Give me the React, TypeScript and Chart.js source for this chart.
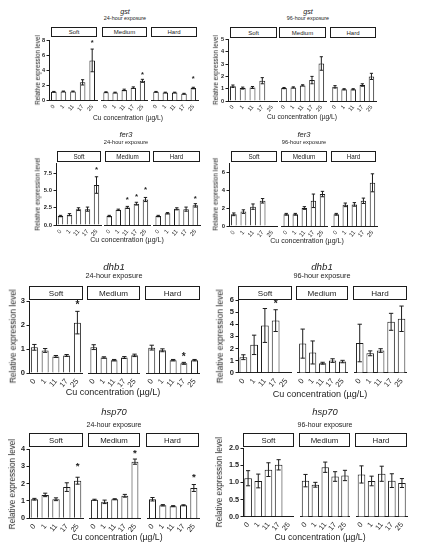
import React, { useEffect, useRef } from "react";
import { Chart, registerables } from "chart.js";

Chart.register(...registerables);

const INK = "#1c1c1c";
const FONT = '"Liberation Sans", Arial, Helvetica, sans-serif';

const CONC = ["0", "1", "11", "17", "25"];
const HARDNESS = ["Soft", "Medium", "Hard"];

// gst, 24 h (Soft | Medium | Hard, each 0,1,11,17,25 µg/L)
const GST24_MEAN = [1.15, 1.2, 1.2, 2.4, 5.3, 1.1, 1.05, 1.4, 1.7, 2.6, 1.15, 1.05, 1.05, 0.9, 1.65];
const GST24_ERR = [0.05, 0.05, 0.05, 0.35, 1.5, 0.05, 0.05, 0.1, 0.1, 0.2, 0.05, 0.05, 0.05, 0.05, 0.1];
const GST24_STAR = [null, null, null, null, 7.8, null, null, null, null, 3.6, null, null, null, null, 3.05];
const GST24_TICKS = [0, 2, 4, 6, 8];

// gst, 96 h
const GST96_MEAN = [1.2, 1.05, 1.1, 1.65, null, 1.05, 1.1, 1.27, 1.7, 3.05, 1.15, 0.95, 0.95, 1.3, 2.0];
const GST96_ERR = [0.1, 0.08, 0.08, 0.25, 0, 0.05, 0.05, 0.05, 0.3, 0.55, 0.1, 0.05, 0.05, 0.1, 0.25];
const GST96_STAR = [null, null, null, null, null, null, null, null, null, null, null, null, null, null, null];
const GST96_TICKS = [0, 1, 2, 3, 4, 5];

// fer3, 24 h
const FER24_MEAN = [1.3, 1.5, 2.3, 2.3, 5.8, 1.3, 2.2, 2.55, 3.1, 3.7, 1.3, 1.7, 2.35, 2.3, 2.85];
const FER24_ERR = [0.1, 0.15, 0.2, 0.3, 1.2, 0.1, 0.1, 0.15, 0.2, 0.3, 0.1, 0.1, 0.15, 0.3, 0.25];
const FER24_STAR = [null, null, null, null, 8.2, null, null, 3.85, 4.3, 5.3, null, null, null, null, 4.1];
const FER24_TICKS = [0, 2.5, 5, 7.5];

// fer3, 96 h
const FER96_MEAN = [1.3, 1.6, 2.15, 2.8, null, 1.3, 1.3, 2.0, 2.8, 3.55, 1.3, 2.35, 2.4, 2.8, 4.8];
const FER96_ERR = [0.15, 0.2, 0.3, 0.25, 0, 0.1, 0.1, 0.15, 0.75, 0.3, 0.1, 0.2, 0.2, 0.3, 1.0];
const FER96_STAR = [null, null, null, null, null, null, null, null, null, null, null, null, null, null, null];
const FER96_TICKS = [0, 2, 4, 6];

// dhb1, 24 h
const DHB24_MEAN = [1.07, 0.94, 0.69, 0.73, 2.1, 1.07, 0.64, 0.53, 0.64, 0.73, 1.05, 0.94, 0.53, 0.4, 0.53];
const DHB24_ERR = [0.12, 0.08, 0.04, 0.04, 0.47, 0.1, 0.03, 0.03, 0.04, 0.05, 0.1, 0.06, 0.03, 0.04, 0.03];
const DHB24_STAR = [null, null, null, null, 2.9, null, null, null, null, null, null, null, null, 0.73, null];
const DHB24_TICKS = [0, 1, 2, 3];

// dhb1, 96 h
const DHB96_MEAN = [1.28, 2.3, 3.9, 4.3, null, 2.4, 1.67, 0.78, 1.0, 0.92, 2.45, 1.6, 1.83, 4.2, 4.45];
const DHB96_ERR = [0.2, 0.8, 1.4, 0.9, 0, 1.2, 0.95, 0.08, 0.15, 0.1, 1.55, 0.2, 0.15, 0.7, 1.05];
const DHB96_STAR = [null, null, null, 5.8, null, null, null, null, null, null, null, null, null, null, null];
const DHB96_TICKS = [0, 1, 2, 3, 4, 5, 6];

// hsp70, 24 h
const HSP24_MEAN = [1.1, 1.35, 1.1, 1.8, 2.17, 1.07, 0.95, 1.1, 1.3, 3.27, 1.1, 0.75, 0.7, 0.75, 1.75];
const HSP24_ERR = [0.05, 0.1, 0.08, 0.25, 0.2, 0.03, 0.1, 0.03, 0.08, 0.15, 0.1, 0.04, 0.03, 0.03, 0.2];
const HSP24_STAR = [null, null, null, null, 3.1, null, null, null, null, 3.85, null, null, null, null, 2.5];
const HSP24_TICKS = [0, 1, 2, 3, 4];

// hsp70, 96 h
const HSP96_MEAN = [1.12, 1.04, 1.37, 1.51, null, 1.05, 0.93, 1.44, 1.17, 1.2, 1.23, 1.04, 1.25, 1.05, 0.98];
const HSP96_ERR = [0.22, 0.2, 0.2, 0.15, 0, 0.18, 0.07, 0.15, 0.14, 0.15, 0.25, 0.14, 0.22, 0.2, 0.13];
const HSP96_STAR = [null, null, null, null, null, null, null, null, null, null, null, null, null, null, null];
const HSP96_TICKS = [0, 0.5, 1, 1.5, 2];

type Layout = {
  titleX: number; geneY: number; subY: number; boxT: number; boxB: number;
  plotT: number; plotB: number; subs: number[][]; boxes: number[][];
  yTitleX: number; xTitleX: number; xTitleY: number; fs: number; bp: number;
};

type Panel = {
  gene: string; exposure: string; mean: (number | null)[]; err: number[];
  star: (number | null)[]; ticks: number[]; yMax: number; dec: number; L: Layout;
};

const PANELS: Panel[] = [
  {
    gene: "gst", exposure: "24-hour exposure", mean: GST24_MEAN, err: GST24_ERR, star: GST24_STAR,
    ticks: GST24_TICKS, yMax: 8, dec: 0,
    L: { titleX: 125, geneY: 12, subY: 19, boxT: 27, boxB: 37, plotT: 40, plotB: 100.5,
      subs: [[49, 97], [101, 147], [151, 198]], boxes: [[51, 97], [102, 147], [151, 197]],
      yTitleX: 38, xTitleX: 128, xTitleY: 118, fs: 1, bp: 0.58 },
  },
  {
    gene: "gst", exposure: "96-hour exposure", mean: GST96_MEAN, err: GST96_ERR, star: GST96_STAR,
    ticks: GST96_TICKS, yMax: 5, dec: 0,
    L: { titleX: 308, geneY: 12, subY: 19, boxT: 27, boxB: 38, plotT: 39.5, plotB: 101,
      subs: [[228, 277], [279, 326], [330, 376]], boxes: [[230, 277], [279, 326], [330, 376]],
      yTitleX: 216, xTitleX: 302, xTitleY: 117, fs: 1, bp: 0.6 },
  },
  {
    gene: "fer3", exposure: "24-hour exposure", mean: FER24_MEAN, err: FER24_ERR, star: FER24_STAR,
    ticks: FER24_TICKS, yMax: 9, dec: 1,
    L: { titleX: 126, geneY: 135, subY: 143, boxT: 151, boxB: 162, plotT: 163, plotB: 225,
      subs: [[56, 101], [104, 150], [153, 200]], boxes: [[57, 101], [105, 150], [153, 200]],
      yTitleX: 38, xTitleX: 127, xTitleY: 240, fs: 1.05, bp: 0.6 },
  },
  {
    gene: "fer3", exposure: "96-hour exposure", mean: FER96_MEAN, err: FER96_ERR, star: FER96_STAR,
    ticks: FER96_TICKS, yMax: 7, dec: 0,
    L: { titleX: 304, geneY: 135, subY: 143, boxT: 151, boxB: 162, plotT: 163, plotB: 226,
      subs: [[229, 277], [281, 327], [331, 377]], boxes: [[231, 277], [281, 327], [331, 376]],
      yTitleX: 216, xTitleX: 307, xTitleY: 241, fs: 1.05, bp: 0.6 },
  },
  {
    gene: "dhb1", exposure: "24-hour exposure", mean: DHB24_MEAN, err: DHB24_ERR, star: DHB24_STAR,
    ticks: DHB24_TICKS, yMax: 3, dec: 0,
    L: { titleX: 114, geneY: 267, subY: 276, boxT: 286, boxB: 300, plotT: 300.5, plotB: 373,
      subs: [[29, 83], [87, 140], [145, 200]], boxes: [[29, 83], [87, 140], [145, 200]],
      yTitleX: 13, xTitleX: 113, xTitleY: 393, fs: 1.35, bp: 0.65 },
  },
  {
    gene: "dhb1", exposure: "96-hour exposure", mean: DHB96_MEAN, err: DHB96_ERR, star: DHB96_STAR,
    ticks: DHB96_TICKS, yMax: 6, dec: 0,
    L: { titleX: 322, geneY: 267, subY: 276, boxT: 286, boxB: 300, plotT: 300, plotB: 372.7,
      subs: [[238, 292], [296, 348], [353, 407]], boxes: [[238, 292], [296, 348], [353, 407]],
      yTitleX: 220, xTitleX: 320, xTitleY: 395, fs: 1.35, bp: 0.72 },
  },
  {
    gene: "hsp70", exposure: "24-hour exposure", mean: HSP24_MEAN, err: HSP24_ERR, star: HSP24_STAR,
    ticks: HSP24_TICKS, yMax: 4, dec: 0,
    L: { titleX: 114, geneY: 413, subY: 425, boxT: 433, boxB: 447, plotT: 449, plotB: 518.3,
      subs: [[29, 83], [88, 140], [146, 199]], boxes: [[29, 83], [88, 140], [146, 199]],
      yTitleX: 13, xTitleX: 117, xTitleY: 537, fs: 1.3, bp: 0.68 },
  },
  {
    gene: "hsp70", exposure: "96-hour exposure", mean: HSP96_MEAN, err: HSP96_ERR, star: HSP96_STAR,
    ticks: HSP96_TICKS, yMax: 2, dec: 1,
    L: { titleX: 325, geneY: 413, subY: 425, boxT: 433, boxB: 447, plotT: 448, plotB: 516.7,
      subs: [[243, 294], [299, 350], [355, 407]], boxes: [[243, 294], [299, 350], [355, 407]],
      yTitleX: 220, xTitleX: 320, xTitleY: 537, fs: 1.3, bp: 0.75 },
  },
];

function SubChart({ p, idx }: { p: Panel; idx: number }) {
  const ref = useRef<HTMLCanvasElement>(null);
  const L = p.L;
  const fs = L.fs;
  const [pl, pr] = L.subs[idx];
  const first = idx === 0;
  const padTop = 6;
  const padRight = 6;
  const xh = Math.round(16 * fs);
  const yAxisW = Math.round(14 * fs);
  const cl = first ? Math.round(pl - yAxisW) : Math.round(pl);
  const ct = Math.round(L.plotT - padTop);
  const cw = Math.round(pr + padRight - cl);
  const ch = Math.round(L.plotB + xh - ct);

  useEffect(() => {
    const mean = p.mean.slice(idx * 5, idx * 5 + 5);
    const err = p.err.slice(idx * 5, idx * 5 + 5);
    const star = p.star.slice(idx * 5, idx * 5 + 5);
    const yw = pl - cl;
    const padT = L.plotT - ct;
    const padR = cl + cw - pr;
    const xhA = ct + ch - L.plotB;
    const tickSize = 5.6 * fs;

    const errPlugin = {
      id: "errstars",
      afterDatasetsDraw(c: any) {
        const ctx = c.ctx;
        const ys = c.scales.y;
        const meta = c.getDatasetMeta(0);
        const cap = 1.6 * fs;
        ctx.save();
        ctx.strokeStyle = INK;
        ctx.fillStyle = INK;
        ctx.lineWidth = 1;
        meta.data.forEach((bar: any, i: number) => {
          const m = mean[i];
          if (m == null) return;
          const e = err[i] || 0;
          const x = bar.x;
          if (e > 0) {
            const yt = ys.getPixelForValue(m + e);
            const yb = ys.getPixelForValue(Math.max(0, m - e));
            ctx.beginPath();
            ctx.moveTo(x, yt);
            ctx.lineTo(x, yb);
            ctx.moveTo(x - cap, yt);
            ctx.lineTo(x + cap, yt);
            ctx.moveTo(x - cap, yb);
            ctx.lineTo(x + cap, yb);
            ctx.stroke();
          }
          const s = star[i];
          if (s != null) {
            const sz = 7.5 * fs;
            ctx.font = `bold ${sz}px ${FONT}`;
            ctx.textAlign = "center";
            ctx.textBaseline = "middle";
            ctx.fillText("*", x, ys.getPixelForValue(s) + sz * 0.22);
          }
        });
        ctx.restore();
      },
    };

    const chart = new Chart(ref.current as HTMLCanvasElement, {
      type: "bar",
      data: {
        labels: CONC,
        datasets: [
          {
            data: mean as any,
            backgroundColor: "#ffffff",
            borderColor: INK,
            borderWidth: 1,
            barPercentage: L.bp,
            categoryPercentage: 1,
          },
        ],
      },
      options: {
        responsive: false,
        animation: false,
        events: [],
        layout: { padding: { top: padT, right: padR, left: 0, bottom: 0 } },
        plugins: {
          legend: { display: false },
          tooltip: { enabled: false },
          title: { display: false },
        },
        scales: {
          x: {
            type: "category",
            offset: true,
            grid: { display: false, drawTicks: false },
            border: { display: true, color: INK, width: 1 },
            ticks: {
              color: INK,
              font: { family: FONT, size: tickSize },
              minRotation: 50,
              maxRotation: 50,
              padding: 3 * fs,
              autoSkip: false,
            },
            afterFit: (s: any) => {
              s.height = xhA;
            },
          },
          y: {
            display: first,
            min: 0,
            max: p.yMax,
            grid: { display: true, drawOnChartArea: false, drawTicks: true, tickLength: 2.5, color: INK },
            border: { display: true, color: INK, width: 1 },
            ticks: {
              color: INK,
              font: { family: FONT, size: tickSize, weight: "bold" },
              padding: 1.5,
              callback: (v: any) => (p.dec ? Number(v).toFixed(p.dec) : String(v)),
            },
            afterBuildTicks: (s: any) => {
              s.ticks = p.ticks.map((v) => ({ value: v }));
            },
            afterFit: (s: any) => {
              s.width = yw;
            },
          },
        },
      } as any,
      plugins: [errPlugin],
    });
    return () => chart.destroy();
  }, []);

  return (
    <canvas
      ref={ref}
      width={cw}
      height={ch}
      style={{ position: "absolute", left: cl, top: ct, width: cw, height: ch }}
    />
  );
}

function PanelView({ p }: { p: Panel }) {
  const L = p.L;
  const fs = L.fs;
  const center = (x: number, y: number, size: number, extra: any = {}) => ({
    position: "absolute" as const,
    left: x - 100,
    width: 200,
    top: y - size / 2,
    fontSize: size,
    lineHeight: `${size}px`,
    textAlign: "center" as const,
    color: INK,
    whiteSpace: "nowrap" as const,
    ...extra,
  });
  const yMid = (L.plotT + L.plotB) / 2;
  return (
    <>
      <div style={center(L.titleX, L.geneY, 7.2 * fs, { fontStyle: "italic" })}>{p.gene}</div>
      <div style={center(L.titleX, L.subY, 5.4 * fs)}>{p.exposure}</div>
      {L.boxes.map((b, i) => (
        <div
          key={i}
          style={{
            position: "absolute",
            left: b[0],
            top: L.boxT,
            width: b[1] - b[0],
            height: L.boxB - L.boxT,
            border: `1px solid ${INK}`,
            boxSizing: "border-box",
            display: "flex",
            alignItems: "center",
            justifyContent: "center",
            fontSize: 6 * fs,
            color: INK,
          }}
        >
          {HARDNESS[i]}
        </div>
      ))}
      {[0, 1, 2].map((i) => (
        <SubChart key={i} p={p} idx={i} />
      ))}
      <div style={center(L.yTitleX, yMid, 6.3 * fs, { transform: "rotate(-90deg)" })}>
        Relative expression level
      </div>
      <div style={center(L.xTitleX, L.xTitleY, 6.7 * fs)}>Cu concentration (µg/L)</div>
    </>
  );
}

export default function App() {
  return (
    <div
      style={{
        position: "absolute",
        left: 0,
        top: 0,
        width: 421,
        height: 550,
        background: "#ffffff",
        overflow: "hidden",
        fontFamily: FONT,
      }}
    >
      {PANELS.map((p, i) => (
        <PanelView key={i} p={p} />
      ))}
    </div>
  );
}
